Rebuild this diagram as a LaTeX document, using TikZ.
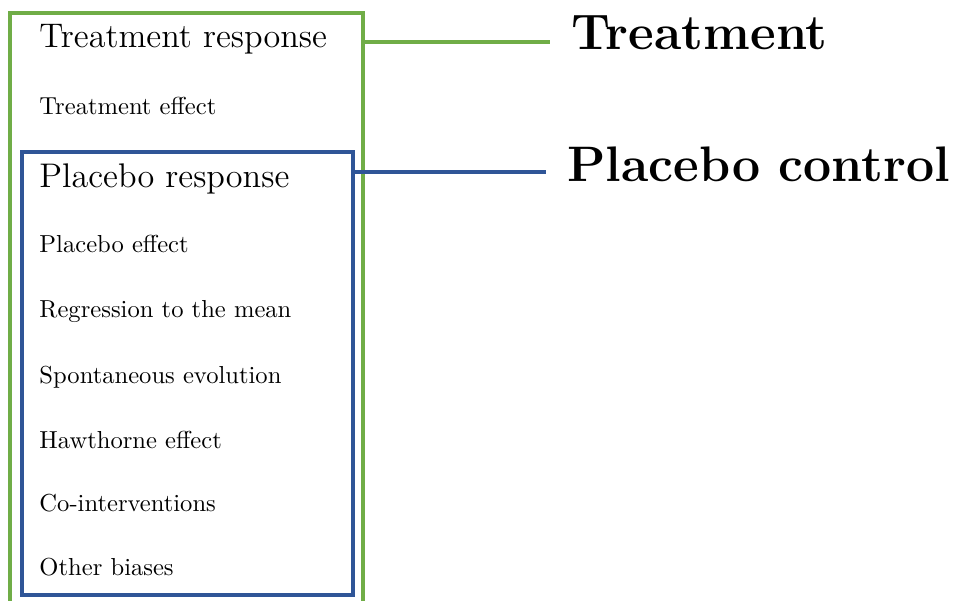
\documentclass[tikz,border=0pt]{standalone}
\usepackage{tikz}
\definecolor{boxgreen}{RGB}{112,173,71}
\definecolor{boxblue}{RGB}{47,85,151}
\tikzset{
  item/.style={anchor=base west,inner sep=0pt},
  head/.style={anchor=base west,inner sep=0pt,font=\fontsize{13.9}{16}\selectfont},
  title/.style={anchor=base west,inner sep=0pt,font=\fontsize{20.3}{24}\selectfont\bfseries},
  frame/.style={line width=1.9pt}
}
\begin{document}
\begin{tikzpicture}[x=0.0143cm,y=-0.0143cm]
\useasboundingbox (0,0) rectangle (955,601);

\draw[frame,boxgreen] (10,620) -- (10,13) -- (363,13) -- (363,620);
\draw[frame,boxblue] (22,152) rectangle (353,595);
%(pixel coordinates, y downwards)

\node[head] (tresp) at (39,48) {Treatment response};
\node[item] (teff) at (39,115) {Treatment effect};
\node[head] (presp) at (39,188) {Placebo response};
\node[item] (peff) at (39,253) {Placebo effect};
\node[item] (regr) at (39,318) {Regression to the mean};
\node[item] (spont) at (39,384) {Spontaneous evolution};
\node[item] (hawth) at (39,448) {Hawthorne effect};
\node[item] (coint) at (39,511) {Co-interventions};
\node[item] (other) at (39,575) {Other biases};

\node[title] (treat) at (571,50) {Treatment};
\node[title] (plac) at (567,182) {Placebo control};

\coordinate (gend) at (363,42);
\coordinate (bend) at (353,172);
\draw[frame,boxgreen] (gend) -- ([xshift=-0.3cm]gend -| treat.west);
\draw[frame,boxblue] (bend) -- ([xshift=-0.3cm]bend -| plac.west);
\end{tikzpicture}
\end{document}
